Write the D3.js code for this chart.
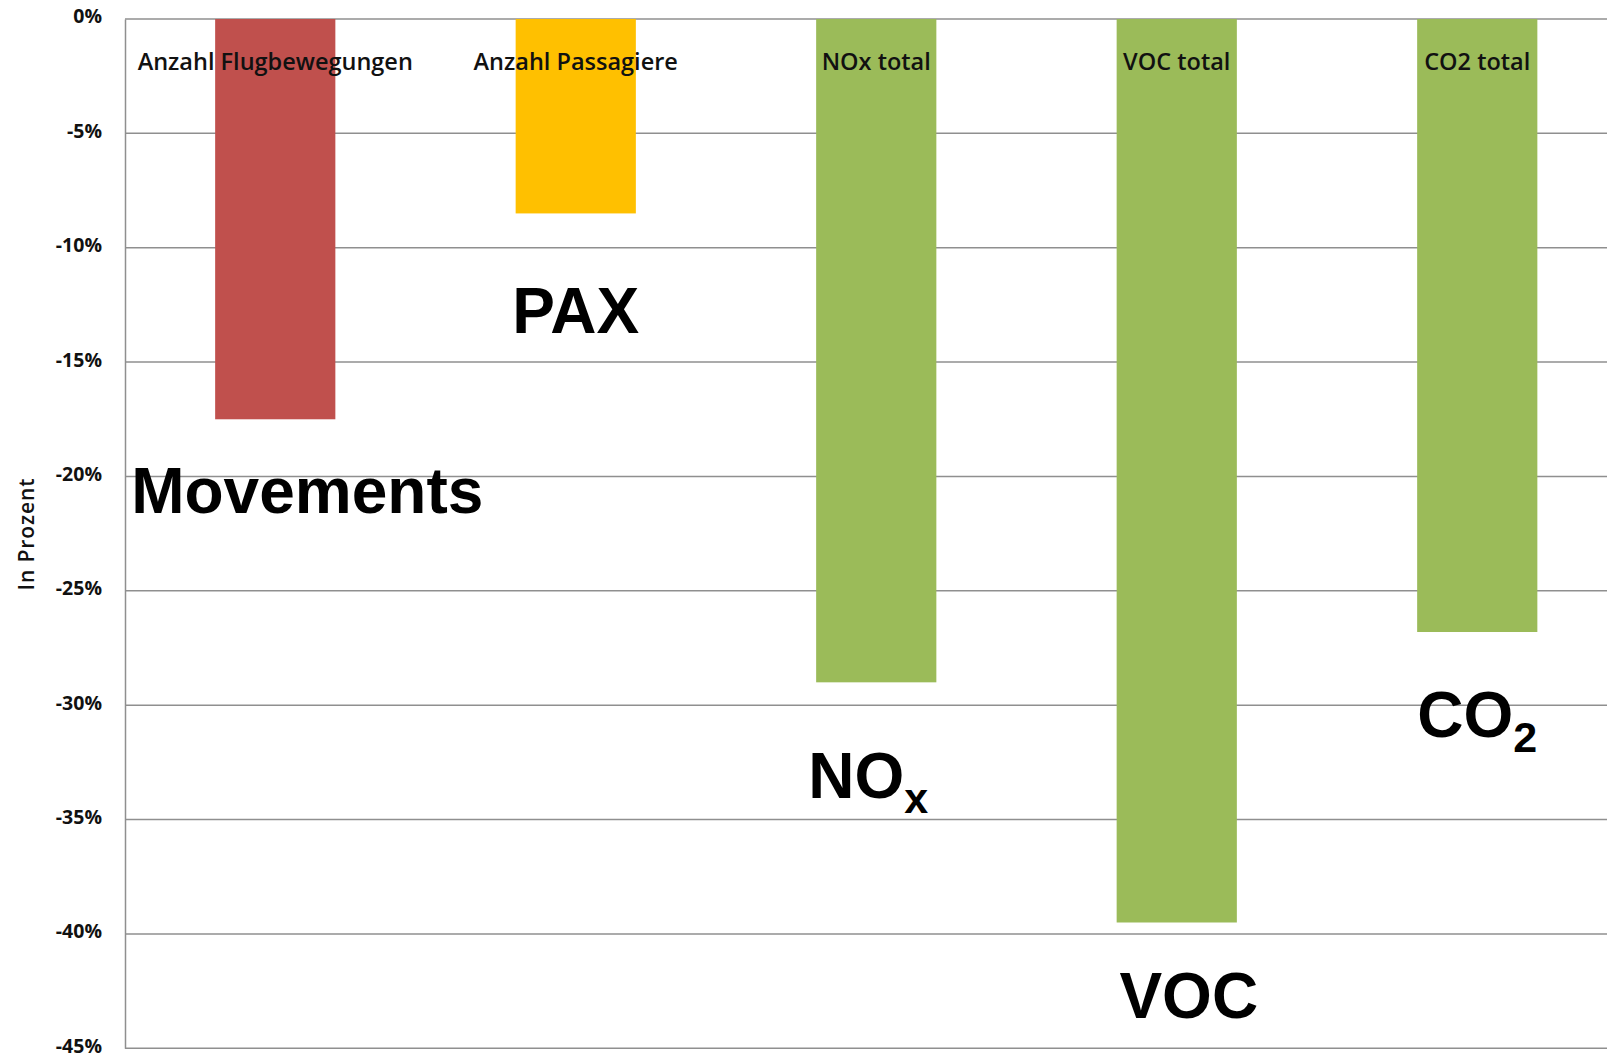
<!DOCTYPE html>
<html>
<head>
<meta charset="utf-8">
<script src="https://cdn.jsdelivr.net/npm/d3@7"></script>
<style>
  html, body { margin: 0; padding: 0; background: #fff; }
  svg { display: block; }
</style>
</head>
<body>
<svg id="chart" width="1607" height="1059"></svg>
<script>
// Change in percent per category
const categories = ["Anzahl Flugbewegungen", "Anzahl Passagiere", "NOx total", "VOC total", "CO2 total"];
const values = [-17.5, -8.5, -29.0, -39.5, -26.8];
const barColors = ["#C0504D", "#FFC000", "#9BBB59", "#9BBB59", "#9BBB59"];
const yTicks = [0, -5, -10, -15, -20, -25, -30, -35, -40, -45];
const yTickLabels = ["0%", "-5%", "-10%", "-15%", "-20%", "-25%", "-30%", "-35%", "-40%", "-45%"];
const axisTitle = "In Prozent";

// Large call-out names (main text + optional subscript)
const calloutText = ["Movements", "PAX", "NO", "VOC", "CO"];
const calloutSub = ["", "", "x", "", "2"];

// Call-out placement: offset from the category centre (px) and level (percent)
const calloutDx = [32, 0, -8, 12, 0];
const calloutLevel = [-21.58, -13.73, -34.05, -43.67, -31.38];

const svg = d3.select("#chart");
const W = 1607, H = 1059;
const plot = { left: 125, top: 19, bottom: 1048.3, step: 300.5 };

const x = d3.scaleBand()
  .domain(categories)
  .range([plot.left, plot.left + plot.step * categories.length])
  .paddingInner(0.6)
  .paddingOuter(0.3);

const y = d3.scaleLinear()
  .domain([0, -45])
  .range([plot.top, plot.bottom]);

const gridColor = "#8f8f8f";

// Horizontal gridlines
svg.append("g")
  .selectAll("line")
  .data(yTicks)
  .join("line")
  .attr("x1", plot.left)
  .attr("x2", W)
  .attr("y1", d => y(d))
  .attr("y2", d => y(d))
  .attr("stroke", gridColor)
  .attr("stroke-width", 1.5);

// Bars hanging down from 0 %
svg.append("g")
  .selectAll("rect")
  .data(values)
  .join("rect")
  .attr("x", (d, i) => x(categories[i]))
  .attr("width", x.bandwidth())
  .attr("y", y(0))
  .attr("height", d => y(d) - y(0))
  .attr("fill", (d, i) => barColors[i]);

// Y axis with percent labels
const yAxis = d3.axisLeft(y)
  .tickValues(yTicks)
  .tickSize(0)
  .tickPadding(23)
  .tickFormat((d, i) => yTickLabels[i]);

const gy = svg.append("g")
  .attr("transform", `translate(${plot.left},0)`)
  .call(yAxis);
gy.select(".domain").attr("stroke", gridColor).attr("stroke-width", 1.5);
gy.selectAll("text")
  .attr("font-family", "'Open Sans', sans-serif")
  .attr("font-weight", 700)
  .attr("font-size", 19.5)
  .attr("fill", "#111")
  .attr("dy", "0.2em");

// Axis title
svg.append("text")
  .attr("transform", `translate(34,534) rotate(-90)`)
  .attr("text-anchor", "middle")
  .attr("font-family", "'Open Sans', sans-serif")
  .attr("font-weight", 600)
  .attr("font-size", 21)
  .attr("letter-spacing", 0.9)
  .attr("fill", "#111")
  .text(axisTitle);

// Category names near the top of each bar
svg.append("g")
  .selectAll("text")
  .data(categories)
  .join("text")
  .attr("x", d => x(d) + x.bandwidth() / 2)
  .attr("y", 70)
  .attr("text-anchor", "middle")
  .attr("font-family", "'Open Sans', sans-serif")
  .attr("font-weight", 600)
  .attr("font-size", 23.5)
  .attr("fill", "#111")
  .text(d => d);

// Large call-outs with subscripts
const callouts = svg.append("g")
  .selectAll("text")
  .data(calloutText)
  .join("text")
  .attr("x", (d, i) => x(categories[i]) + x.bandwidth() / 2 + calloutDx[i])
  .attr("y", (d, i) => y(calloutLevel[i]))
  .attr("text-anchor", "middle")
  .attr("font-family", "'Liberation Sans', Arial, sans-serif")
  .attr("font-weight", 700)
  .attr("font-size", 64)
  .attr("fill", "#000");

callouts.append("tspan").text(d => d);
callouts.filter((d, i) => calloutSub[i] !== "")
  .append("tspan")
  .attr("font-size", 43)
  .attr("dy", 15)
  .text(d => calloutSub[calloutText.indexOf(d)]);
</script>
</body>
</html>
